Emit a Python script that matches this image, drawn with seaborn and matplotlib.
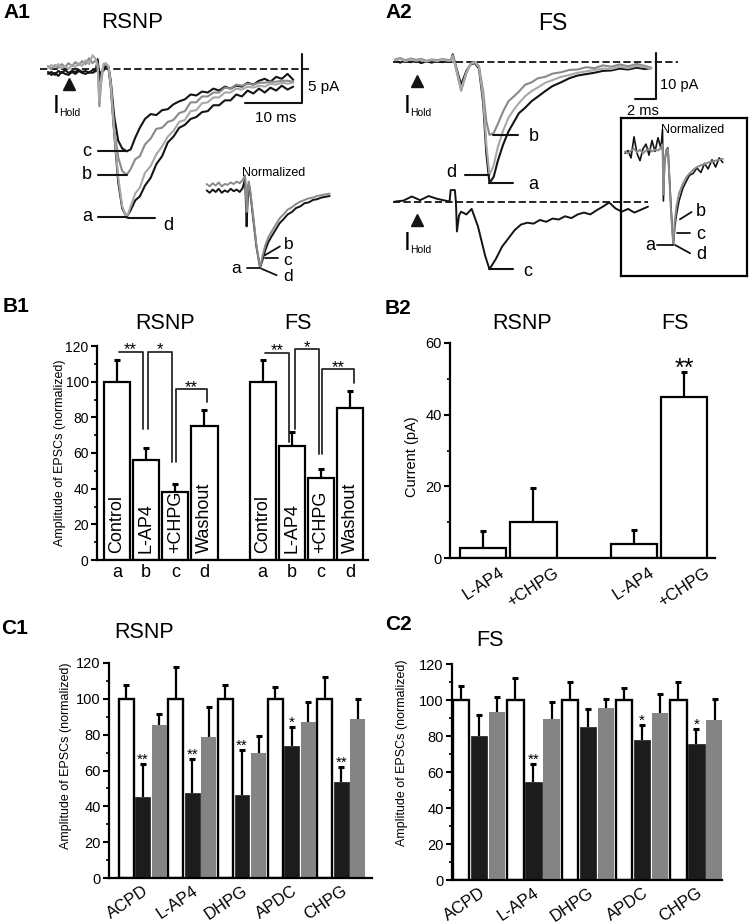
import numpy as np
import pandas as pd
import matplotlib
matplotlib.use("Agg")
import matplotlib.pyplot as plt
from matplotlib.ticker import MultipleLocator
import seaborn as sns

# ---------------- data ----------------
# A1 RSNP traces: time (ms), current (pA); a=control, b=L-AP4, c=+CHPG, d=washout
t_a1 = [0.0, 0.6, 1.2, 1.8, 2.4, 3.0, 3.6, 4.2, 4.8, 5.4, 6.0, 6.6, 7.2, 7.8, 8.4,
        8.7, 9.0, 9.3, 9.7, 10.1, 10.6, 11.0,
        11.6, 12.3, 13.0, 13.8,
        14.5, 15.3, 16.1, 17.0, 18.0, 19.0, 20.0, 21.0, 22.0, 23.0, 24.0, 25.0, 26.0, 27.0,
        28.0, 29.0, 30.0, 31.0, 32.0, 33.0, 34.0, 35.0, 36.0, 37.0, 38.0, 39.0, 40.0, 41.0, 42.0, 43.0]
a1_a = [-0.5, -0.3, -0.6, -0.2, -0.4, -0.1, -0.4, -0.2, -0.3, -0.1, -0.3, -0.2, -0.4, -0.1, -0.2,
        1.0, -0.8, -0.3, -0.2, 0.3, 0.1, -1.8,
        -6.5, -11.5, -14.2, -15.1,
        -14.4, -13.4, -13.0, -11.9, -11.1, -9.7, -8.9, -7.5, -6.9, -6.0, -5.7, -5.1, -4.9, -4.4,
        -4.3, -3.7, -3.7, -3.2, -3.2, -2.6, -2.8, -2.2, -2.5, -2.0, -2.4, -1.9, -2.2, -1.7, -2.1, -1.8]
a1_b = [0.3, 0.0, 0.4, 0.1, 0.5, 0.2, 0.6, 0.3, 0.7, 0.4, 0.8, 0.5, 1.1, 0.6, 0.9,
        0.5, -3.8, -1.5, 0.3, 0.5, 0.2, -1.5,
        -6.0, -9.0, -10.4, -10.8,
        -10.2, -9.2, -8.9, -7.7, -7.1, -6.1, -6.0, -5.4, -5.2, -4.5, -4.3, -3.4, -3.4, -2.8,
        -2.8, -2.4, -2.4, -1.9, -2.0, -1.6, -1.7, -1.5, -1.6, -1.4, -1.4, -1.3, -1.3, -1.2, -1.2, -1.3]
a1_c = [-0.3, -0.6, -0.4, -0.7, -0.3, -0.5, -0.6, -0.3, -0.5, -0.2, -0.4, -0.5, -0.3, -0.4, -0.2,
        0.8, -1.2, -0.4, 0.0, 0.4, 0.2, -1.2,
        -4.8, -7.3, -8.1, -8.4,
        -8.2, -7.0, -6.0, -5.1, -4.6, -4.7, -4.2, -4.1, -3.6, -3.3, -3.1, -2.6, -2.7, -2.3,
        -2.4, -2.0, -2.2, -1.8, -2.0, -1.7, -1.8, -1.4, -1.6, -1.2, -1.0, -1.3, -0.8, -1.0, -0.5, -1.1]
a1_d = [0.1, 0.4, 0.2, 0.5, 0.1, 0.3, 0.0, 0.4, 0.2, 0.6, 0.3, 0.9, 0.5, 1.4, 1.0,
        0.2, -3.3, -1.0, 0.5, 0.6, 0.3, -1.6,
        -6.3, -11.0, -14.0, -15.2,
        -14.0, -12.7, -12.1, -10.6, -9.9, -8.7, -7.9, -6.9, -6.3, -5.4, -5.2, -4.3, -4.2, -3.5,
        -3.4, -2.9, -2.9, -2.4, -2.4, -2.0, -2.1, -1.8, -1.9, -1.7, -1.8, -1.5, -1.6, -1.4, -1.5, -1.4]

# A1 inset, normalized traces
t_n1 = [0, 1, 2, 3, 4, 5, 6, 7, 8, 9, 10, 11, 12, 12.8, 13.3, 13.6, 14.0, 14.4, 15.5, 16.6, 17.8,
        18.6, 19.5, 20.5, 21.7, 23.0, 24.3, 25.6, 27.0, 28.4, 29.8, 31.2, 32.6, 34.0, 35.4, 36.8,
        38.2, 39.6, 41.0]
n1_grey = [0.05, 0.02, 0.06, 0.03, 0.07, 0.02, 0.05, 0.04, 0.07, 0.05, 0.08, 0.06, 0.10, 0.16,
           -0.30, -0.10, 0.08, 0.0, -0.35, -0.72, -1.0, -0.85, -0.72, -0.62, -0.54, -0.46, -0.38,
           -0.33, -0.27, -0.24, -0.20, -0.17, -0.15, -0.13, -0.12, -0.10, -0.09, -0.08, -0.07]
n1_black = [-0.03, -0.06, -0.02, -0.05, -0.01, -0.06, -0.03, -0.05, -0.01, -0.04, -0.02, -0.05,
            0.0, 0.12, -0.48, -0.20, 0.05, -0.02, -0.38, -0.74, -1.0, -0.9, -0.78, -0.68, -0.60,
            -0.52, -0.44, -0.39, -0.33, -0.30, -0.25, -0.23, -0.19, -0.18, -0.15, -0.14, -0.12,
            -0.11, -0.10]

# A2 FS traces
t_a2 = [0.0, 0.5, 1.0, 1.5, 2.0, 2.5, 3.0, 3.5, 4.0, 4.5, 5.0, 5.3,
        5.5, 5.8, 6.3, 6.8, 7.2, 7.6,
        8.0, 8.4, 8.7, 9.0,
        9.4, 9.8, 10.3, 10.8, 11.3, 11.8, 12.4, 13.0, 13.6, 14.3, 15.0, 15.8, 16.6, 17.4, 18.2,
        19.0, 19.8, 20.6, 21.4, 22.2, 23.0, 23.8, 24.4]
a2_a = [0.2, -0.2, 0.3, -0.1, 0.2, -0.3, 0.1, -0.2, 0.2, -0.1, 0.1, 0.0,
        1.6, -1.0, -5.0, -2.0, -0.6, -0.3,
        -1.5, -9.0, -20.0, -26.4,
        -25.0, -21.5, -18.0, -15.2, -13.2, -11.2, -10.0, -8.6, -7.6, -6.4, -5.3, -4.5, -3.6, -3.0,
        -2.7, -2.4, -2.0, -1.9, -1.5, -1.7, -1.3, -1.6, -1.4]
a2_b = [0.5, 0.8, 0.3, 0.7, 0.4, 0.6, 0.2, 0.5, 0.3, 0.6, 0.4, 0.3,
        1.4, -1.5, -6.3, -2.5, -0.4, 0.0,
        -1.0, -6.5, -13.0, -15.9,
        -15.5, -13.5, -10.8, -8.6, -7.6, -6.5, -5.0, -4.5, -3.6, -3.3, -2.6, -2.3, -1.8, -1.7,
        -1.2, -1.4, -0.8, -1.1, -0.6, -1.0, -0.5, -0.9, -1.3]
a2_d = [0.3, 0.6, 0.1, 0.5, 0.2, 0.4, 0.0, 0.4, 0.1, 0.5, 0.2, 0.2,
        1.2, -1.2, -6.0, -2.3, -0.5, -0.1,
        -1.2, -8.0, -18.0, -24.6,
        -22.5, -18.5, -15.0, -12.2, -10.5, -9.0, -7.5, -6.4, -5.6, -4.6, -4.0, -3.3, -2.9, -2.4,
        -2.1, -1.8, -1.5, -1.6, -1.1, -1.4, -0.9, -1.2, -1.5]
t_c = [0.0, 0.8, 1.6, 2.4, 3.2, 4.0, 4.8, 5.2, 5.3, 5.7, 5.8, 5.9, 6.1, 6.3, 6.8, 7.3, 7.9, 8.6,
       9.0, 9.6, 10.2, 10.8, 11.4, 12.0, 12.6, 13.2, 13.8, 14.4, 15.0, 15.6, 16.2, 16.8, 17.4,
       18.0, 18.6, 19.2, 19.8, 20.4, 21.0, 21.6, 22.2, 22.8, 23.4, 24.1]
a2_c = [0.0, 0.2, 1.1, 0.3, 1.2, 0.6, 0.2, 0.0, 2.5, 2.5, 0.0, -6.5, -3.0, -2.2, -2.8, -1.6,
        -5.4, -11.9, -14.7, -12.5, -9.8, -8.0, -6.2, -5.0, -4.6, -4.8, -4.0, -4.4, -3.7, -3.9,
        -3.2, -3.6, -2.8, -2.4, -2.8, -1.9, -1.1, -0.2, -1.5, -2.2, -1.6, -2.4, -1.8, -1.1]
c_offset = -30.4  # second sweep drawn below the first

# A2 inset, normalized traces
t_n2 = [0, 1, 2, 3, 4, 5, 6, 7, 8, 9, 10, 11, 12, 12.5, 12.8, 13.2, 13.8, 14.3, 14.8, 15.4,
        16.1, 16.6, 17.2, 18.0, 19.3, 20.5, 21.5, 22.7, 24.0, 25.3, 26.5, 27.7, 29.0, 30.2,
        31.4, 32.6]
n2_black = [0.0, 0.03, -0.05, 0.18, 0.0, -0.08, 0.05, 0.10, -0.02, 0.14, 0.02, 0.17, 0.05, 0.26,
            -0.52, -0.10, 0.04, 0.06, -0.25, -0.62, -1.0, -0.80, -0.66, -0.52, -0.38, -0.30,
            -0.24, -0.22, -0.16, -0.21, -0.11, -0.17, -0.07, -0.15, -0.05, -0.10]
n2_grey = [0.02, 0.0, 0.03, 0.05, 0.01, 0.04, 0.0, 0.03, 0.05, 0.02, 0.04, 0.03, 0.06, 0.10,
           -0.45, -0.08, 0.03, 0.05, -0.28, -0.68, -1.0, -0.74, -0.57, -0.44, -0.33, -0.26,
           -0.22, -0.18, -0.15, -0.13, -0.12, -0.10, -0.09, -0.08, -0.07, -0.06]

# B1: normalized EPSC amplitude
b1_cells = ["RSNP"] * 4 + ["FS"] * 4
b1_letters = ["a", "b", "c", "d"] * 2
b1_treat = ["Control", "L-AP4", "+CHPG", "Washout"] * 2
b1_mean = [100, 56, 38, 75, 100, 64, 46, 85]
b1_sem = [12.3, 7.0, 4.5, 9.3, 12.3, 7.5, 5.0, 10.0]

# B2: holding current
b2_cells = ["RSNP", "RSNP", "FS", "FS"]
b2_drug = ["L-AP4", "+CHPG", "L-AP4", "+CHPG"]
b2_mean = [2.8, 10.0, 3.9, 44.9]
b2_sem = [4.8, 9.4, 3.8, 7.0]

# C: agonists
c_drugs = ["ACPD", "L-AP4", "DHPG", "APDC", "CHPG"]
c_conds = ["Control", "Agonist", "Washout"]
c1_control = [100, 100, 100, 100, 100]
c1_control_sem = [8.0, 18.0, 7.6, 6.5, 12.0]
c1_agonist = [45.2, 47.4, 46.1, 73.9, 53.4]
c1_agonist_sem = [18.4, 19.0, 25.2, 10.4, 8.4]
c1_washout = [85.6, 78.7, 69.8, 87.1, 88.9]
c1_washout_sem = [6.1, 16.9, 9.6, 11.1, 11.0]
c1_stars = ["**", "**", "**", "*", "**"]
c2_control = [100, 100, 100, 100, 100]
c2_control_sem = [7.8, 12.0, 10.2, 6.5, 10.2]
c2_agonist = [80.2, 54.3, 85.2, 78.0, 75.6]
c2_agonist_sem = [11.5, 10.1, 10.0, 8.1, 8.3]
c2_washout = [93.5, 89.4, 95.4, 92.6, 88.9]
c2_washout_sem = [8.4, 9.7, 5.0, 10.7, 11.5]
c2_stars = ["", "**", "", "*", "*"]

# ---------------- style ----------------
sns.set_theme(style="ticks", rc={
    "axes.edgecolor": "black", "axes.labelcolor": "black", "text.color": "black",
    "xtick.color": "black", "ytick.color": "black", "axes.linewidth": 1.6})
plt.rcParams["font.family"] = ["Liberation Sans", "DejaVu Sans"]

DARK = "#141414"
MID = "#8a8a8a"
LIGHT = "#a8a8a8"
BAR_GREY = "#848484"

W, H = 750, 924
fig = plt.figure(figsize=(7.5, 9.24), dpi=100)
fig.patch.set_facecolor("white")


def px_axes(x0, y0, x1, y1):
    return fig.add_axes([x0 / W, 1 - y1 / H, (x1 - x0) / W, (y1 - y0) / H])


def px_text(x, y, s, **kw):
    fig.text(x / W, 1 - y / H, s, **kw)


def trace(ax, t, v, color, lw=1.5, offset=0.0):
    sns.lineplot(x=np.asarray(t, float), y=np.asarray(v, float) + offset, ax=ax,
                 color=color, linewidth=lw, estimator=None, sort=False, legend=False)


def min_label(ax, t, v, name, line, text_dt, text_dv=0.0, offset=0.0, size=13):
    i = int(np.argmin(v))
    t0, v0 = t[i], v[i] + offset
    ax.plot([t0 + line[0], t0 + line[1]], [v0, v0], color=DARK, lw=1.5)
    ax.text(t0 + text_dt, v0 + text_dv, name, ha="center", va="center", fontsize=size)


def hold_mark(ax, t, v, ix, iy):
    ax.plot([t], [v], marker="^", ms=9, color=DARK, mec=DARK)
    px_text(ix, iy, "I", ha="left", va="baseline", fontsize=18)
    px_text(ix + 6, iy + 3, "Hold", ha="left", va="baseline", fontsize=7.5)


def add_errbars(ax, bars, sems, lw=1.6):
    bars = sorted([p for p in bars if np.isfinite(p.get_height())], key=lambda p: p.get_x())
    tops = []
    for p, s in zip(bars, sems):
        cx = p.get_x() + p.get_width() / 2
        top = p.get_height()
        ax.plot([cx, cx], [top, top + s], color="black", lw=lw, solid_capstyle="butt", zorder=4)
        ax.plot([cx], [top + s], marker="_", ms=5, mew=2.2, color="black", zorder=4)
        tops.append((cx, top, top + s))
    return tops


def style_bar_axes(ax, ymax, major, ylabel, label_xy, ticksize, labelsize):
    sns.despine(ax=ax)
    ax.set_ylim(0, ymax)
    ax.yaxis.set_major_locator(MultipleLocator(major))
    ax.yaxis.set_minor_locator(MultipleLocator(major / 2))
    ax.tick_params(axis="y", which="major", direction="out", length=4, width=1.5,
                   labelsize=ticksize, pad=2, left=True)
    ax.tick_params(axis="y", which="minor", direction="out", length=2.5, width=1.2, left=True)
    ax.tick_params(axis="x", length=0)
    ax.set_xlabel("")
    ax.set_ylabel(ylabel, fontsize=labelsize)
    ax.yaxis.set_label_coords(*label_xy)


# ---------------- A1 ----------------
ax = px_axes(30, 40, 340, 235)
ax.axis("off")
ax.set_xlim(-3.16, 51.2)
ax.set_ylim(-16.94, 2.96)
ax.plot([-1.4, 46.0], [0, 0], color=DARK, lw=1.3, ls=(0, (4, 1.8)))
trace(ax, t_a1, a1_a, DARK)
trace(ax, t_a1, a1_c, DARK)
trace(ax, t_a1, a1_b, MID)
trace(ax, t_a1, a1_d, LIGHT)
for name, vals in [("a", a1_a), ("b", a1_b), ("c", a1_c)]:
    min_label(ax, t_a1, vals, name, (-5.0, 0.0), -7.0)
min_label(ax, t_a1, a1_d, "d", (0.3, 5.0), 7.3, -0.8)
ax.plot([44.6, 44.6, 34.6], [1.5, -3.5, -3.5], color=DARK, lw=1.5)
ax.text(45.6, -1.84, "5 pA", ha="left", va="center", fontsize=11)
ax.text(40.0, -5.0, "10 ms", ha="center", va="center", fontsize=11)
hold_mark(ax, 3.7, -1.5, 53, 113)

ax = px_axes(200, 165, 340, 285)
ax.axis("off")
ax.set_xlim(-2.23, 44.43)
ax.set_ylim(-1.2125, 0.2875)
trace(ax, t_n1, n1_black, DARK, lw=1.4)
trace(ax, t_n1, n1_grey, MID, lw=1.4)
ax.text(22.4, 0.19, "Normalized", ha="center", va="center", fontsize=9)
ax.plot([13.3, 17.8], [-1.0, -1.0], color=DARK, lw=1.3)
ax.text(9.8, -1.0, "a", ha="center", va="center", fontsize=12.5)
ax.plot([19.4, 24.4], [-0.84, -0.73], color=DARK, lw=1.3)
ax.text(25.6, -0.71, "b", ha="left", va="center", fontsize=12.5)
ax.plot([19.4, 23.8], [-0.875, -0.875], color=DARK, lw=1.3)
ax.text(25.6, -0.9, "c", ha="left", va="center", fontsize=12.5)
ax.plot([18.3, 23.3], [-1.01, -1.09], color=DARK, lw=1.3)
ax.text(25.6, -1.11, "d", ha="left", va="center", fontsize=12.5)

# ---------------- A2 ----------------
ax = px_axes(380, 40, 750, 285)
ax.axis("off")
ax.set_xlim(-1.4286, 33.81)
ax.set_ylim(-48.54, 4.717)
ax.plot([-0.19, 26.95], [0, 0], color=DARK, lw=1.3, ls=(0, (4, 1.8)))
ax.plot([-0.19, 24.1], [c_offset, c_offset], color=DARK, lw=1.3, ls=(0, (4, 1.8)))
trace(ax, t_a2, a2_a, DARK)
trace(ax, t_a2, a2_b, MID)
trace(ax, t_a2, a2_d, LIGHT)
trace(ax, t_c, a2_c, DARK, lw=1.4, offset=c_offset)
min_label(ax, t_a2, a2_b, "b", (0.3, 2.7), 4.2, -0.4)
min_label(ax, t_a2, a2_a, "a", (0.0, 2.2), 4.2, -0.2)
min_label(ax, t_a2, a2_d, "d", (-2.35, 0.0), -3.6, 0.6)
min_label(ax, t_c, a2_c, "c", (0.0, 2.2), 3.6, -0.6, offset=c_offset)
ax.plot([24.86, 24.86, 22.86], [1.9, -8.1, -8.1], color=DARK, lw=1.5)
ax.text(25.2, -5.0, "10 pA", ha="left", va="center", fontsize=10.5)
ax.text(23.6, -10.7, "2 ms", ha="center", va="center", fontsize=10.5)
hold_mark(ax, 2.1, -4.3, 404, 113)
hold_mark(ax, 2.1, -34.5, 404, 250)

ax = px_axes(621, 118, 747, 276)
ax.set_facecolor("none")
ax.set_xticks([])
ax.set_yticks([])
for s in ax.spines.values():
    s.set_linewidth(1.6)
    s.set_color("black")
ax.set_xlim(-1.333, 40.667)
ax.set_ylim(-1.338, 0.385)
trace(ax, t_n2, n2_black, DARK, lw=1.2)
trace(ax, t_n2, n2_grey, MID, lw=1.4)
ax.text(22.7, 0.25, "Normalized", ha="center", va="center", fontsize=9)
ax.plot([10.6, 15.9], [-1.0, -1.0], color=DARK, lw=1.3)
ax.text(8.3, -1.0, "a", ha="center", va="center", fontsize=13)
ax.plot([18.3, 22.2], [-0.72, -0.64], color=DARK, lw=1.3)
ax.text(23.6, -0.63, "b", ha="left", va="center", fontsize=13)
ax.plot([17.2, 21.7], [-0.87, -0.87], color=DARK, lw=1.3)
ax.text(23.6, -0.89, "c", ha="left", va="center", fontsize=13)
ax.plot([16.7, 21.7], [-1.0, -1.09], color=DARK, lw=1.3)
ax.text(23.6, -1.1, "d", ha="left", va="center", fontsize=13)

# ---------------- B1 ----------------
ax = px_axes(97, 346, 368, 560)
df_b1 = pd.DataFrame({"slot": [c + " " + l for c, l in zip(b1_cells, b1_letters)],
                      "amp": b1_mean})
order_b1 = [s for s in df_b1["slot"][:4]] + [" "] + [s for s in df_b1["slot"][4:]]
sns.barplot(data=df_b1, x="slot", y="amp", order=order_b1, color="white", edgecolor="black",
            linewidth=1.6, width=0.9, errorbar=None, saturation=1, ax=ax)
tops = add_errbars(ax, ax.containers[0], b1_sem)
for (cx, top, et), lab in zip(tops, b1_treat):
    ax.text(cx, 4, lab, rotation=90, ha="center", va="bottom", fontsize=13)
style_bar_axes(ax, 120, 20, "Amplitude of EPSCs (normalized)", (-0.114, 0.5), 10, 9)
ax.set_xlim(-0.69, 8.62)
ax.set_xticks(range(9))
ax.set_xticklabels(b1_letters[:4] + [""] + b1_letters[4:], fontsize=13)
ax.tick_params(axis="x", pad=3)
# significance brackets: (x_left, x_right, y, y_left_end, y_right_end, label)
for xl, xr, yb, yl, yr, lab in [(0.05, 0.88, 116.8, 116.8, 73.5, "**"),
                                (1.05, 1.88, 116.7, 73.5, 54.9, "*"),
                                (2.02, 3.08, 95.8, 54.9, 88.4, "**"),
                                (5.09, 5.89, 116.3, 116.3, 66.0, "**"),
                                (6.12, 6.95, 118.1, 73.5, 59.5, "*"),
                                (7.03, 8.14, 107.0, 59.5, 99.0, "**")]:
    ax.plot([xl, xl, xr, xr], [yl, yb, yb, yr], color="#2a2a2a", lw=1.3, clip_on=False)
    ax.text((xl + xr) / 2, yb - 1.5, lab, ha="center", va="baseline", fontsize=12, clip_on=False)

# ---------------- B2 ----------------
ax = px_axes(450, 343, 715, 558)
df_b2 = pd.DataFrame({"slot": [c + " " + d for c, d in zip(b2_cells, b2_drug)], "amp": b2_mean})
order_b2 = list(df_b2["slot"][:2]) + [" "] + list(df_b2["slot"][2:])
sns.barplot(data=df_b2, x="slot", y="amp", order=order_b2, color="white", edgecolor="black",
            linewidth=1.6, width=0.92, errorbar=None, saturation=1, ax=ax)
tops = add_errbars(ax, ax.containers[0], b2_sem)
style_bar_axes(ax, 60, 20, "Current (pA)", (-0.117, 0.47), 10.5, 10.5)
ax.set_xlim(-0.66, 4.61)
ax.set_xticks([0, 1, 3, 4])
ax.set_xticklabels(b2_drug, rotation=33, fontsize=12)
ax.tick_params(axis="x", pad=5)
cx, top, et = tops[-1]
ax.text(cx, et - 1.2, "**", ha="center", va="baseline", fontsize=18)


# ---------------- C1 / C2 ----------------
def c_panel(ax, ctrl, ctrl_sem, ago, ago_sem, wash, wash_sem, stars, xlim, label_xy):
    df = pd.DataFrame({"drug": c_drugs * 3,
                       "cond": [c for c in c_conds for _ in c_drugs],
                       "amp": list(ctrl) + list(ago) + list(wash)})
    sns.barplot(data=df, x="drug", y="amp", hue="cond", order=c_drugs, hue_order=c_conds,
                palette=["white", "#1c1c1c", BAR_GREY], width=1.0, gap=0.1, errorbar=None,
                saturation=1, legend=False, ax=ax)
    edges = [("black", 1.7), ("#1c1c1c", 0.5), (BAR_GREY, 0.0)]
    for cont, (ec, lw) in zip(ax.containers, edges):
        for p in cont:
            p.set_edgecolor(ec)
            p.set_linewidth(lw)
    add_errbars(ax, ax.containers[0], ctrl_sem)
    ago_tops = add_errbars(ax, ax.containers[1], ago_sem)
    add_errbars(ax, ax.containers[2], wash_sem)
    for (cx, top, et), st in zip(ago_tops, stars):
        if st:
            ax.text(cx, et, st, ha="center", va="baseline", fontsize=11)
    style_bar_axes(ax, 120, 20, "Amplitude of EPSCs (normalized)", label_xy, 10.5, 9)
    ax.set_xlim(*xlim)
    ax.set_xticks(range(len(c_drugs)))
    ax.set_xticklabels(c_drugs, rotation=34, ha="right", rotation_mode="anchor", fontsize=12)
    ax.tick_params(axis="x", pad=4)


ax = px_axes(109, 663, 372, 878)
c_panel(ax, c1_control, c1_control_sem, c1_agonist, c1_agonist_sem, c1_washout,
        c1_washout_sem, c1_stars, (-0.68, 4.62), (-0.141, 0.57))
ax = px_axes(452, 664, 722, 880)
c_panel(ax, c2_control, c2_control_sem, c2_agonist, c2_agonist_sem, c2_washout,
        c2_washout_sem, c2_stars, (-0.5, 4.47), (-0.163, 0.59))

# ---------------- titles and panel letters ----------------
for x, y, s in [(3, 12, "A1"), (385, 12, "A2"), (3, 306, "B1"), (385, 309, "B2"),
                (1, 628, "C1"), (385, 625, "C2")]:
    px_text(x, y, s, ha="left", va="center", fontsize=15, fontweight="bold")
for x, y, s, fs in [(132, 23, "RSNP", 16), (553, 24, "FS", 16.5),
                    (165, 323, "RSNP", 15.5), (298, 323, "FS", 15.5),
                    (522, 323, "RSNP", 15.5), (675, 323, "FS", 15.5),
                    (144, 632, "RSNP", 15.5), (490, 640, "FS", 15.5)]:
    px_text(x, y, s, ha="center", va="center", fontsize=fs)

fig.savefig("out.png", dpi=100, facecolor="white")
